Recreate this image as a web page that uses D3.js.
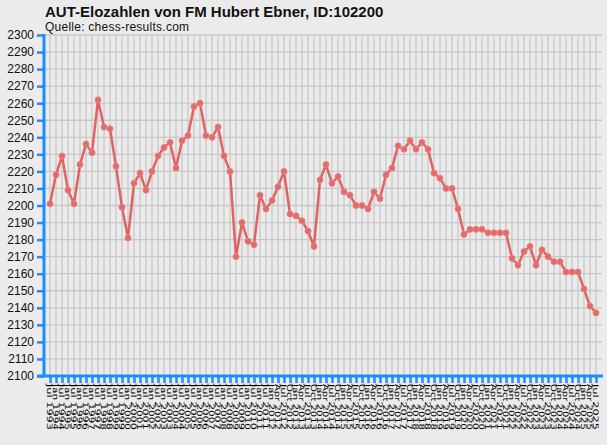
<!DOCTYPE html>
<html>
<head>
<meta charset="utf-8">
<script src="https://cdn.jsdelivr.net/npm/d3@7"></script>
<style>
  html, body { margin: 0; padding: 0; background: #ebebeb; }
  svg { display: block; font-family: "Liberation Sans", Arial, sans-serif; }
</style>
</head>
<body>
<svg width="607" height="445"></svg>
<script>
const titleText = "AUT-Elozahlen von FM Hubert Ebner, ID:102200";
const sourceText = "Quelle: chess-results.com";

// rating lists: half-yearly until Jan 2012, quarterly afterwards
const periods = [
  "Jul 1993", "Jan 1994", "Jul 1994", "Jan 1995", "Jul 1995", "Jan 1996", "Jul 1996",
  "Jan 1997", "Jul 1997", "Jan 1998", "Jul 1998", "Jan 1999", "Jul 1999", "Jan 2000",
  "Jul 2000", "Jan 2001", "Jul 2001", "Jan 2002", "Jul 2002", "Jan 2003", "Jul 2003",
  "Jan 2004", "Jul 2004", "Jan 2005", "Jul 2005", "Jan 2006", "Jul 2006", "Jan 2007",
  "Jul 2007", "Jan 2008", "Jul 2008", "Jan 2009", "Jul 2009", "Jan 2010", "Jul 2010",
  "Jan 2011", "Jul 2011", "Jan 2012",
  "Apr 2012", "Jul 2012", "Oct 2012",
  "Jan 2013", "Apr 2013", "Jul 2013", "Oct 2013",
  "Jan 2014", "Apr 2014", "Jul 2014", "Oct 2014",
  "Jan 2015", "Apr 2015", "Jul 2015", "Oct 2015",
  "Jan 2016", "Apr 2016", "Jul 2016", "Oct 2016",
  "Jan 2017", "Apr 2017", "Jul 2017", "Oct 2017",
  "Jan 2018", "Apr 2018", "Jul 2018", "Oct 2018",
  "Jan 2019", "Apr 2019", "Jul 2019", "Oct 2019",
  "Jan 2020", "Apr 2020", "Jul 2020", "Oct 2020",
  "Jan 2021", "Apr 2021", "Jul 2021", "Oct 2021",
  "Jan 2022", "Apr 2022", "Jul 2022", "Oct 2022",
  "Jan 2023", "Apr 2023", "Jul 2023", "Oct 2023",
  "Jan 2024", "Apr 2024", "Jul 2024", "Oct 2024",
  "Jan 2025", "Apr 2025", "Jul 2025"
];

const elo = [
  2201, 2218, 2229, 2209, 2201, 2224, 2236, 2231, 2262, 2246,
  2245, 2223, 2199, 2181, 2213, 2219, 2209, 2220, 2229, 2234,
  2237, 2222, 2238, 2241, 2258, 2260, 2241, 2240, 2246, 2229,
  2220, 2170, 2190, 2179, 2177, 2206, 2198, 2203, 2211, 2220,
  2195, 2194, 2191, 2185, 2176, 2215, 2224, 2213, 2217, 2208,
  2206, 2200, 2200, 2198, 2208, 2204, 2218, 2222, 2235, 2233,
  2238, 2233, 2237, 2233, 2219, 2216, 2210, 2210, 2198, 2183,
  2186, 2186, 2186, 2184, 2184, 2184, 2184, 2169, 2165, 2173,
  2176, 2165, 2174, 2170, 2167, 2167, 2161, 2161, 2161, 2151,
  2141, 2137
];

const yTicks = d3.range(2100, 2301, 10);

const svg = d3.select("svg");
const plotLeft = 44, plotRight = 602, plotTop = 35, plotBottom = 376;

const x = d3.scalePoint()
    .domain(periods)
    .range([plotLeft, plotRight])
    .padding(1);

const y = d3.scaleLinear()
    .domain([2100, 2300])
    .range([plotBottom, plotTop]);

// title
svg.append("text")
    .attr("x", 45).attr("y", 17)
    .style("font-size", "15px").style("font-weight", "bold")
    .attr("fill", "#111")
    .text(titleText);

svg.append("text")
    .attr("x", 45).attr("y", 31)
    .style("font-size", "12px")
    .style("letter-spacing", "0.25px")
    .attr("fill", "#111")
    .text(sourceText);

// grid
const grid = svg.append("g").attr("stroke", "#c8c8c8").attr("stroke-width", 1.3);
grid.selectAll("line.h")
  .data(yTicks)
  .enter()
  .append("line")
    .attr("x1", plotLeft).attr("x2", plotRight)
    .attr("y1", d => y(d)).attr("y2", d => y(d));
grid.selectAll("line.v")
  .data(periods)
  .enter()
  .append("line")
    .attr("x1", d => x(d)).attr("x2", d => x(d))
    .attr("y1", plotTop).attr("y2", plotBottom);

// axes
const yAxis = d3.axisLeft(y).tickValues(yTicks).tickSize(7).tickPadding(3).tickFormat(d3.format("d"));
const yG = svg.append("g").attr("transform", `translate(${plotLeft},0)`).call(yAxis);
yG.select(".domain").remove();
yG.selectAll(".tick line").attr("stroke", "#1e8cff").attr("stroke-width", 2.5);
yG.selectAll(".tick text").style("font-size", "12px").style("font-family", "Liberation Sans, Arial, sans-serif").attr("fill", "#111");

const xAxis = d3.axisBottom(x).tickSize(7).tickFormat("");
const xG = svg.append("g").attr("transform", `translate(0,${plotBottom})`).call(xAxis);
xG.select(".domain").remove();
xG.selectAll(".tick line").attr("stroke", "#1e8cff").attr("stroke-width", 2.5);

svg.append("line")
    .attr("x1", plotLeft).attr("x2", plotLeft)
    .attr("y1", plotTop - 1).attr("y2", plotBottom + 1)
    .attr("stroke", "#1e8cff").attr("stroke-width", 3);
svg.append("line")
    .attr("x1", plotLeft - 7).attr("x2", plotRight + 1)
    .attr("y1", plotBottom).attr("y2", plotBottom)
    .attr("stroke", "#1e8cff").attr("stroke-width", 3);

// vertical period labels
svg.append("g")
  .selectAll("text")
  .data(periods)
  .enter()
  .append("text")
    .attr("transform", d => `translate(${x(d) - 3},384) rotate(90)`)
    .style("font-size", "7.5px")
    .style("font-family", "DejaVu Sans, sans-serif")
    .attr("textLength", 46)
    .attr("lengthAdjust", "spacingAndGlyphs")
    .attr("fill", "#000")
    .text(d => d);

// line + points
const line = d3.line()
    .x((d, i) => x(periods[i]))
    .y(d => y(d));

svg.append("path")
    .datum(elo)
    .attr("d", line)
    .attr("fill", "none")
    .attr("stroke", "#e06262")
    .attr("stroke-width", 2.5)
    .attr("stroke-linejoin", "round");

svg.append("g")
  .selectAll("circle")
  .data(elo)
  .enter()
  .append("circle")
    .attr("cx", (d, i) => x(periods[i]))
    .attr("cy", d => y(d))
    .attr("r", 3)
    .attr("fill", "#e46a6a")
    .attr("stroke", "#e88080")
    .attr("stroke-width", 1);
</script>
</body>
</html>
